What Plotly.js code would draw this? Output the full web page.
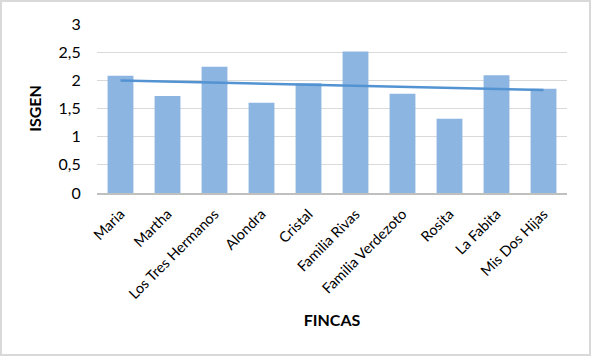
<!DOCTYPE html>
<html>
<head>
<meta charset="utf-8">
<script src="https://cdn.plot.ly/plotly-3.0.1.min.js"></script>
<style>
  html, body { margin: 0; padding: 0; background: #fff; }
  #wrap { position: relative; width: 591px; height: 356px; }
  #chart { position: absolute; left: 0; top: 0; width: 591px; height: 356px; }
  #frame { position: absolute; left: 0; top: 0; width: 591px; height: 356px; box-sizing: border-box; border: 2px solid #D9D9D9; pointer-events: none; }
</style>
</head>
<body>
<div id="wrap"><div id="chart"></div><div id="frame"></div></div>
<script>
const fincas = ["Maria", "Martha", "Los Tres Hermanos", "Alondra", "Cristal", "Familia Rivas", "Familia Verdezoto", "Rosita", "La Fabita", "Mis Dos Hijas"];
const isgen = [2.08, 1.72, 2.24, 1.60, 1.95, 2.51, 1.76, 1.32, 2.09, 1.85];
const yTicks = [0, 0.5, 1, 1.5, 2, 2.5, 3];

// Linear trendline (least squares over category index), as in the original spreadsheet chart
const n = isgen.length;
const xs = isgen.map((_, i) => i + 1);
const mx = xs.reduce((a, b) => a + b, 0) / n;
const my = isgen.reduce((a, b) => a + b, 0) / n;
let sxy = 0, sxx = 0;
for (let i = 0; i < n; i++) { sxy += (xs[i] - mx) * (isgen[i] - my); sxx += (xs[i] - mx) ** 2; }
const slope = sxy / sxx;
const trend = xs.map(x => my + slope * (x - mx));

const font = "Lato, 'Open Sans', sans-serif";

const data = [
  { type: "bar", x: fincas, y: isgen, marker: { color: "#8DB5E2" }, hoverinfo: "x+y" },
  { type: "scatter", mode: "lines", x: fincas, y: trend, line: { color: "#5393D2", width: 2.5 }, hoverinfo: "skip" }
];

const layout = {
  width: 591, height: 356,
  margin: { l: 97, r: 24, t: 24, b: 163 },
  paper_bgcolor: "#fff", plot_bgcolor: "#fff",
  separators: ",.",
  showlegend: false,
  bargap: 0.45,
  font: { family: font, color: "#000" },
  xaxis: {
    type: "category",
    tickangle: -45,
    tickfont: { size: 14.5, family: font, color: "#000" },
    showgrid: false,
    showline: true, linecolor: "#BFBFBF", linewidth: 2,
    ticks: "outside", ticklen: 5, tickcolor: "rgba(0,0,0,0)",
    title: { text: "<b>FINCAS</b>", font: { size: 16, family: font, color: "#000" }, standoff: 14 },
    automargin: false
  },
  yaxis: {
    range: [0, 3],
    tickvals: yTicks,
    ticktext: yTicks.map(v => String(v).replace(".", ",")),
    tickfont: { size: 16, family: font, color: "#000" },
    showgrid: true, gridcolor: "#D9D9D9", gridwidth: 1,
    zeroline: false,
    showline: false,
    ticks: "outside", ticklen: 12, tickcolor: "rgba(0,0,0,0)",
    title: { text: "<b>ISGEN</b>", font: { size: 16, family: font, color: "#000" }, standoff: 12 },
    automargin: false
  }
};

Plotly.newPlot("chart", data, layout, { displayModeBar: false, staticPlot: true });
</script>
</body>
</html>
